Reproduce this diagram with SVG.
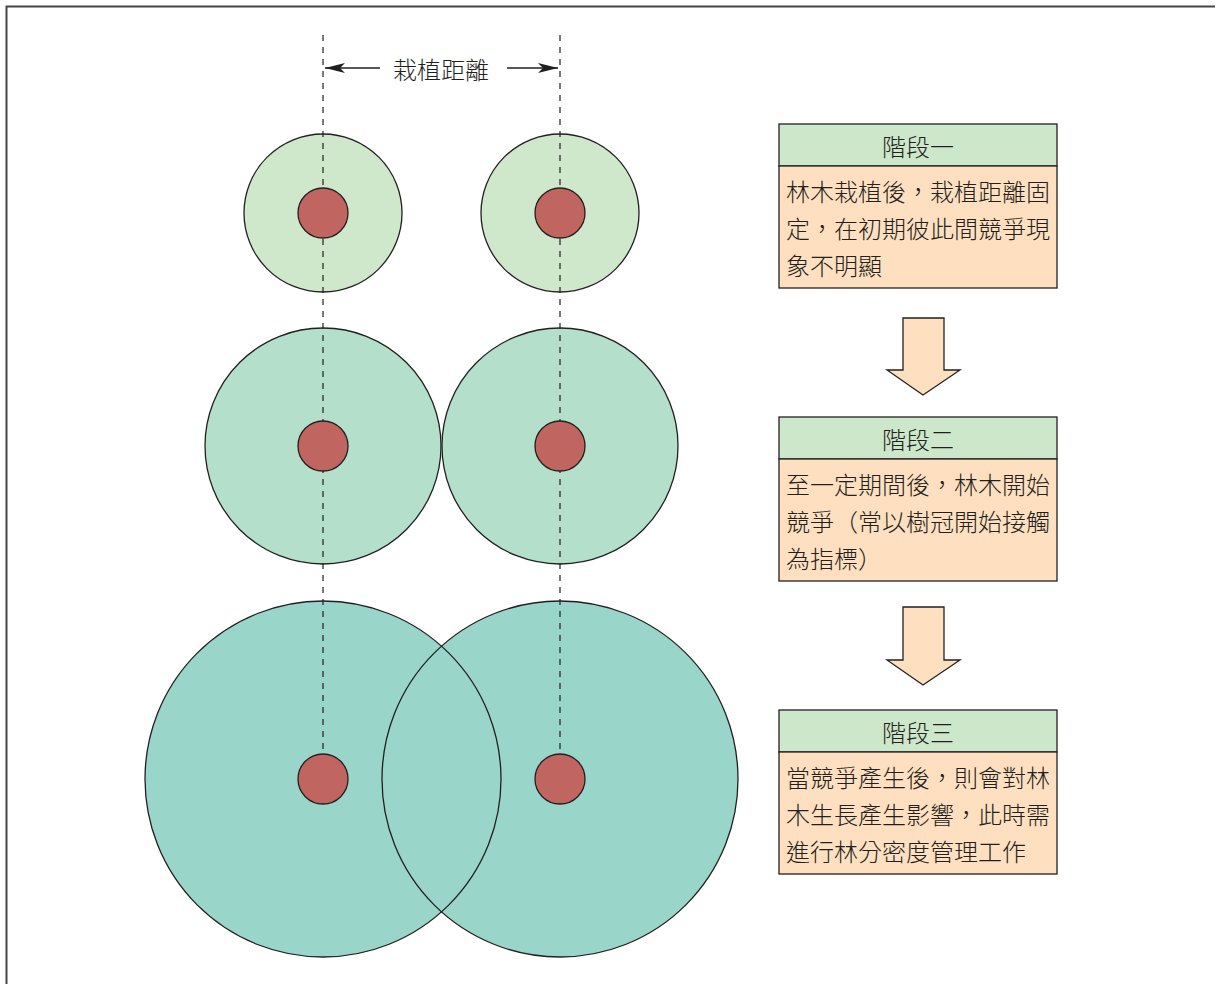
<svg xmlns="http://www.w3.org/2000/svg" width="1216" height="984" viewBox="0 0 1216 984">
<defs>
<style>
.t{font-family:"Noto Sans CJK TC","Noto Sans CJK SC",sans-serif;font-size:24px;fill:#231f20;font-weight:300}
.c{text-anchor:middle}
.crown{stroke:#231f20;stroke-width:1.3}
.dot{fill:#c0655f;stroke:#231f20;stroke-width:1.3}
.dash{stroke:#231f20;stroke-width:1.2;stroke-dasharray:6,6;fill:none}
.hdr{fill:#cde7cb;stroke:#231f20;stroke-width:1.3}
.body{fill:#fee0c0;stroke:#231f20;stroke-width:1.3}
.blk{fill:#fee0c0;stroke:#231f20;stroke-width:1.3}
</style>
<marker id="ah" viewBox="0 0 20 10" refX="20" refY="5" markerWidth="20" markerHeight="10" markerUnits="userSpaceOnUse" orient="auto">
<path d="M0,0 L20,5 L0,10 L5,5 Z" fill="#231f20"/>
</marker>
</defs>
<rect x="0" y="0" width="1216" height="984" fill="#ffffff"/>
<path d="M6.5,990 V6.5 H1215" fill="none" stroke="#444" stroke-width="2"/>

<g id="crowns">
<circle cx="323" cy="213" r="79" fill="#cfe8cc"/>
<circle cx="560" cy="213" r="79" fill="#cfe8cc"/>
<circle cx="323" cy="446" r="118" fill="#b3dfcb"/>
<circle cx="560" cy="446" r="118" fill="#b3dfcb"/>
<circle cx="323" cy="779" r="178" fill="#99d5c9"/>
<circle cx="560" cy="779" r="178" fill="#99d5c9"/>
<g fill="none" class="crown">
<circle cx="323" cy="213" r="79"/>
<circle cx="560" cy="213" r="79"/>
<circle cx="323" cy="446" r="118"/>
<circle cx="560" cy="446" r="118"/>
<circle cx="323" cy="779" r="178"/>
<circle cx="560" cy="779" r="178"/>
</g>
</g>

<g id="connectors">
<line class="dash" x1="323" y1="35" x2="323" y2="756"/>
<line class="dash" x1="560" y1="35" x2="560" y2="756"/>
<line x1="380" y1="68" x2="325" y2="68" stroke="#231f20" stroke-width="1.3" marker-end="url(#ah)"/>
<line x1="507" y1="68" x2="558" y2="68" stroke="#231f20" stroke-width="1.3" marker-end="url(#ah)"/>
</g>

<text class="t c" x="441" y="79">栽植距離</text>

<g id="trees">
<circle class="dot" cx="323" cy="213" r="25"/>
<circle class="dot" cx="560" cy="213" r="25"/>
<circle class="dot" cx="323" cy="446" r="25"/>
<circle class="dot" cx="560" cy="446" r="25"/>
<circle class="dot" cx="323" cy="779" r="25"/>
<circle class="dot" cx="560" cy="779" r="25"/>
</g>

<g id="stage1">
<rect class="hdr" x="779" y="124" width="278" height="42"/>
<rect class="body" x="779" y="166" width="278" height="122"/>
<text class="t c" x="918" y="156">階段一</text>
<text class="t" x="786" y="201">林木栽植後，栽植距離固</text>
<text class="t" x="786" y="238">定，在初期彼此間競爭現</text>
<text class="t" x="786" y="275">象不明顯</text>
</g>

<g id="arrow1">
<path class="blk" d="M903,318 H944 V370 H960 L923,395 L887,370 H903 Z"/>
</g>

<g id="stage2">
<rect class="hdr" x="779" y="417" width="278" height="42"/>
<rect class="body" x="779" y="459" width="278" height="122"/>
<text class="t c" x="918" y="449">階段二</text>
<text class="t" x="786" y="494">至一定期間後，林木開始</text>
<text class="t" x="786" y="531">競爭（常以樹冠開始接觸</text>
<text class="t" x="786" y="568">為指標）</text>
</g>

<g id="arrow2">
<path class="blk" d="M903,607 H944 V660 H960 L923,685 L887,660 H903 Z"/>
</g>

<g id="stage3">
<rect class="hdr" x="779" y="710" width="278" height="42"/>
<rect class="body" x="779" y="752" width="278" height="122"/>
<text class="t c" x="918" y="742">階段三</text>
<text class="t" x="786" y="787">當競爭產生後，則會對林</text>
<text class="t" x="786" y="824">木生長產生影響，此時需</text>
<text class="t" x="786" y="861">進行林分密度管理工作</text>
</g>
</svg>
